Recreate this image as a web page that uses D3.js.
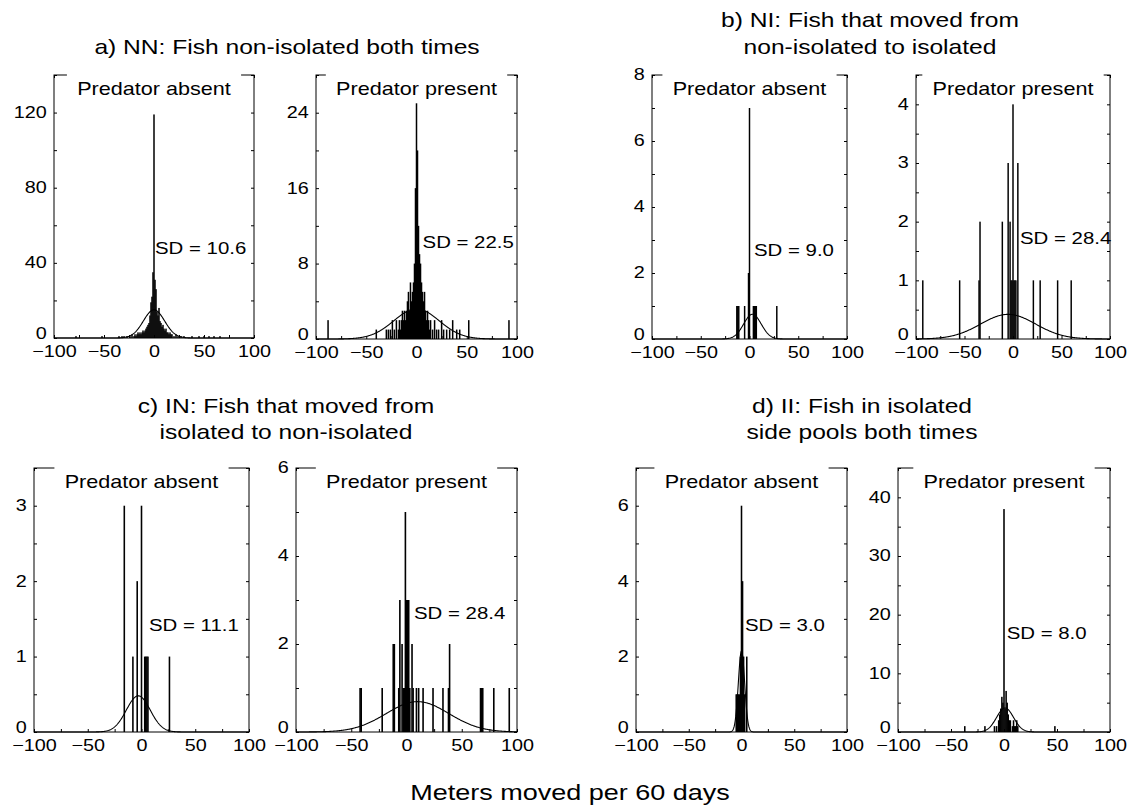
<!DOCTYPE html>
<html>
<head>
<meta charset="utf-8">
<script src="https://cdn.jsdelivr.net/npm/d3@7"></script>
<style>
body { margin: 0; background: #fff; }
svg { display: block; font-family: "Liberation Sans", Arial, Helvetica, sans-serif; }
</style>
</head>
<body>
<svg width="1130" height="805"></svg>
<script>
// distance moved (m per 60 days) and number of fish in each 1 m bin
const nnAbsentMoves  = [-78, -52, -35, -32, -30, -27, -24, -22, -20, -19, -18, -17, -16, -15, -14, -13, -12, -11, -10, -9, -8, -7, -6, -5, -4, -3, -2, -1, 0, 1, 2, 3, 4, 5, 6, 7, 8, 9, 10, 11, 12, 13, 14, 15, 16, 17, 18, 20, 22, 24, 27, 30, 38, 45, 50, 55, 60, 66]
const nnAbsentCounts = [1, 1, 1, 1, 1, 1, 1, 2, 1, 2, 1, 2, 3, 2, 3, 2, 3, 4, 3, 4, 5, 6, 7, 8, 12, 19, 22, 35, 119, 31, 26, 14, 12, 16, 9, 8, 6, 7, 5, 4, 5, 3, 3, 2, 3, 2, 2, 1, 2, 1, 1, 1, 1, 1, 1, 1, 1, 1]

const nnPresentMoves  = [-88, -40, -30, -28, -26, -24, -22, -20, -18, -17, -16, -15, -14, -13, -12, -11, -10, -9, -8, -7, -6, -5, -4, -3, -2, -1, 0, 1, 2, 3, 4, 5, 6, 7, 8, 9, 10, 11, 12, 13, 14, 16, 18, 20, 22, 25, 27, 30, 33, 36, 40, 43, 52, 92]
const nnPresentCounts = [2, 1, 1, 1, 1, 2, 1, 2, 1, 2, 1, 2, 3, 2, 3, 2, 3, 4, 5, 3, 6, 4, 5, 6, 8, 16, 25, 20, 12, 9, 8, 6, 5, 4, 5, 3, 2, 3, 2, 1, 2, 1, 2, 1, 1, 2, 1, 1, 1, 2, 1, 1, 2, 2]

const niAbsentMoves  = [-13, -12, -11, -5, -1, 0, 4, 5, 6, 7, 28]
const niAbsentCounts = [1, 1, 1, 1, 2, 7, 1, 1, 1, 1, 1]

const niPresentMoves  = [-93, -55, -35, -34, -11, -5, -3, -2, -1, 0, 1, 2, 3, 5, 21, 28, 46, 60]
const niPresentCounts = [1, 1, 1, 2, 2, 3, 2, 1, 1, 4, 1, 1, 1, 3, 1, 1, 1, 1]

const inAbsentMoves  = [-16, -8, -4, 0, 3, 4, 5, 6, 26]
const inAbsentCounts = [3, 1, 2, 3, 1, 1, 1, 1, 1]

const inPresentMoves  = [-42, -41, -22, -12, -11, -7, -6, -4, -3, -2, -1, 0, 1, 2, 3, 5, 6, 9, 11, 15, 24, 33, 38, 39, 67, 68, 69, 79, 93]
const inPresentCounts = [1, 1, 1, 2, 2, 1, 3, 2, 1, 1, 5, 3, 3, 3, 1, 2, 1, 1, 1, 1, 1, 1, 1, 2, 1, 1, 1, 1, 1]

const iiAbsentMoves  = [-5, -4, -3, -2, -1, 0, 1, 2, 3, 5]
const iiAbsentCounts = [1, 1, 1, 1, 2, 6, 4, 2, 1, 2]

const iiPresentMoves  = [-37, -18, -9, -7, -5, -4, -3, -2, -1, 0, 1, 2, 3, 4, 5, 6, 8, 9, 10, 11, 12, 13, 48]
const iiPresentCounts = [1, 1, 1, 1, 2, 3, 4, 6, 5, 38, 4, 7, 5, 3, 2, 2, 1, 2, 1, 1, 2, 1, 1]

// fitted normal curves: SD printed on each panel, centre and height
const fitSD   = [10.6, 22.5, 9.0, 28.4, 11.1, 28.4, 3.0, 8.0]
const fitMean = [0, 0, 3, -5, -3, 10, 0, 1]
const fitPeak = [15, 3.2, 0.75, 0.42, 0.48, 0.69, 2.15, 4.1]

// axes
const yMax       = [140, 28, 8, 4.5, 3.5, 6, 7, 45]
const yTickStep  = [20, 4, 1, 0.5, 0.5, 1, 1, 5]
const yLabelStep = [40, 8, 2, 1, 1, 2, 2, 10]
const xTicks  = [-100, -75, -50, -25, 0, 25, 50, 75, 100]
const xLabels = [-100, -50, 0, 50, 100]

const predatorLabels = ["Predator absent", "Predator present"]
const groupTitles = [
    ["a) NN: Fish non-isolated both times"],
    ["b) NI: Fish that moved from", "non-isolated to isolated"],
    ["c) IN: Fish that moved from", "isolated to non-isolated"],
    ["d) II: Fish in isolated", "side pools both times"]
]
const xAxisTitle = "Meters moved per 60 days"

const moves  = [nnAbsentMoves, nnPresentMoves, niAbsentMoves, niPresentMoves, inAbsentMoves, inPresentMoves, iiAbsentMoves, iiPresentMoves]
const counts = [nnAbsentCounts, nnPresentCounts, niAbsentCounts, niPresentCounts, inAbsentCounts, inPresentCounts, iiAbsentCounts, iiPresentCounts]

// layout (pixels)
const boxes = [
    [54, 254, 75, 338], [316, 517, 75, 339], [652, 847, 75, 339], [916, 1110, 75, 339],
    [34, 249, 468, 732], [296, 517, 468, 732], [636, 847, 468, 732], [898, 1110, 468, 732]
]
const sdPos = [[1, 173], [6, 167], [4.6, 175], [7.2, 163], [7, 157], [6.8, 145], [3.3, 157], [2.5, 165]]
const titlePos = [[287, [47]], [870, [20, 47]], [286, [406, 432]], [862, [406, 432]]]
const SX = 1.2   // the original figure is a bit stretched horizontally

const svg = d3.select("svg")

function stretchedText(parent, x, y, str, size, anchor) {
    return parent.append("text")
        .attr("transform", `translate(${x},${y}) scale(${SX},1)`)
        .attr("text-anchor", anchor || "middle")
        .attr("font-size", size)
        .attr("fill", "#000")
        .text(str)
}

function drawPanel(i) {
    const [x0, x1, y0, y1] = boxes[i]
    const x = d3.scaleLinear().domain([-100, 100]).range([x0, x1])
    const y = d3.scaleLinear().domain([0, yMax[i]]).range([y1, y0])
    const g = svg.append("g")
    const yTicks = d3.range(0, yMax[i] + 1e-9, yTickStep[i])
    const onStep = (v, s) => Math.abs(v / s - Math.round(v / s)) < 1e-6

    // histogram bars
    const bw = Math.max(1.3, x(1) - x(0) + 0.5)
    g.selectAll("rect.bar")
        .data(d3.zip(moves[i], counts[i]))
        .join("rect")
        .attr("class", "bar")
        .attr("x", d => x(d[0]) - bw / 2)
        .attr("width", bw)
        .attr("y", d => y(d[1]))
        .attr("height", d => y(0) - y(d[1]))
        .attr("fill", "#000")

    // normal fit
    const line = d3.line()
        .x(d => x(d))
        .y(d => y(fitPeak[i] * Math.exp(-0.5 * Math.pow((d - fitMean[i]) / fitSD[i], 2))))
    g.append("path")
        .datum(d3.range(-100, 100.01, 0.5))
        .attr("d", line)
        .attr("fill", "none")
        .attr("stroke", "#000")
        .attr("stroke-width", 1.1)

    // box
    g.append("rect")
        .attr("x", x0).attr("y", y0)
        .attr("width", x1 - x0).attr("height", y1 - y0)
        .attr("fill", "none").attr("stroke", "#000").attr("stroke-width", 1)

    const styleAxis = a => {
        a.select(".domain").remove()
        a.attr("font-size", 16.5).attr("font-family", null)
        a.selectAll("line").attr("stroke", "#000")
        a.selectAll("text").attr("fill", "#000")
            .attr("transform", `scale(${SX},1)`)
    }

    g.append("g").attr("transform", `translate(${x0},0)`)
        .call(d3.axisLeft(y).tickValues(yTicks).tickSizeInner(-3).tickSizeOuter(0).tickPadding(6)
            .tickFormat(v => onStep(v, yLabelStep[i]) ? d3.format("d")(v) : ""))
        .call(styleAxis)
        .selectAll("text").attr("dy", v => v === 0 ? "0.05em" : "0.3em")
    g.append("g").attr("transform", `translate(${x1},0)`)
        .call(d3.axisRight(y).tickValues(yTicks).tickSizeInner(-3).tickSizeOuter(0).tickFormat(""))
        .call(styleAxis)
    g.append("g").attr("transform", `translate(0,${y1})`)
        .call(d3.axisBottom(x).tickValues(xTicks).tickSizeInner(-3).tickSizeOuter(0).tickPadding(7)
            .tickFormat(v => xLabels.includes(v) ? d3.format("d")(v) : ""))
        .call(styleAxis)
    g.append("g").attr("transform", `translate(0,${y0})`)
        .call(d3.axisTop(x).tickValues(xTicks).tickSizeInner(-3).tickSizeOuter(0).tickFormat(""))
        .call(styleAxis)

    // panel label sitting in a gap of the top border
    const cx = (x0 + x1) / 2
    const gap = g.append("rect").attr("fill", "#fff")
    const lab = stretchedText(g, cx, y0 + 20, predatorLabels[i % 2], 18)
    const w = lab.node().getBBox().width * SX
    gap.attr("x", cx - w / 2 - 10).attr("y", y0 - 4)
        .attr("width", w + 20).attr("height", 8)

    // SD annotation
    stretchedText(g, x(sdPos[i][0]), y0 + sdPos[i][1] + 6, "SD = " + fitSD[i].toFixed(1), 17, "start")
}

d3.range(8).forEach(drawPanel)

groupTitles.forEach((lines, k) => {
    lines.forEach((t, j) => stretchedText(svg, titlePos[k][0], titlePos[k][1][j] + 7, t, 20.5))
})

stretchedText(svg, 570, 800, xAxisTitle, 22.5)
</script>
</body>
</html>
